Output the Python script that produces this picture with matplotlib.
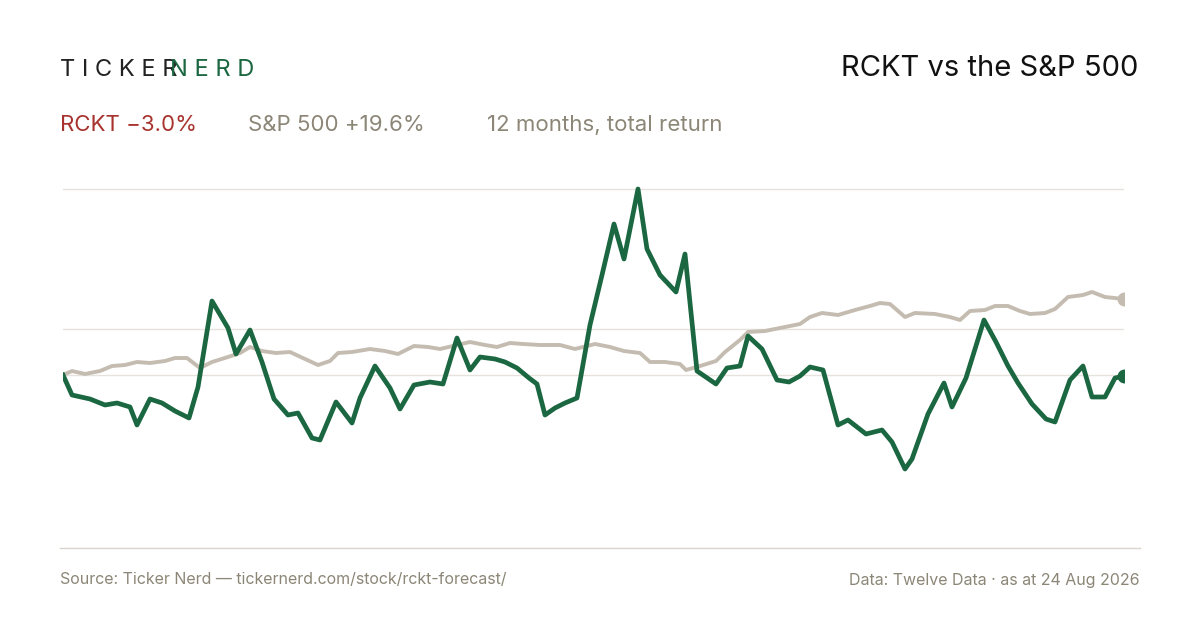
import numpy as np
import matplotlib.pyplot as plt

# values as (pixel x, pixel y); converted to days / % below
rckt_px = [63,72,90,105,117,130,137,150,162,175,189,198,212,228,236,250,262,274,288,298,312,320,336,352,360,375,390,400,414,430,443,457,470,480,495,505,517,529,537,545,555,565,577,590,602,614,624,638,647,660,676,685,697,716,727,740,748,762,777,789,800,810,823,838,848,866,882,892,905,912,928,944,952,966,984,996,1008,1018,1032,1046,1055,1070,1083,1092,1105,1115,1124]
rckt_py = [375,395,399,405,403,407,425,399,403,411,418,387,301,328,354,330,362,399,415,413,438,440,402,423,398,366,388,409,385,382,384,338,370,357,359,362,368,378,384,415,408,403,398,325,275,224,259,189,249,275,292,254,371,384,368,366,336,349,380,382,376,367,370,425,420,434,430,442,469,459,414,383,407,378,320,342,366,383,404,419,422,380,366,397,397,378,376]
spx_px = [63,72,85,100,112,125,137,150,165,175,187,200,212,228,240,250,262,276,290,305,318,330,338,352,370,385,398,414,428,440,457,470,485,497,510,523,540,560,575,595,610,624,640,650,665,680,686,700,716,725,740,748,765,780,800,810,822,838,855,870,880,890,905,915,935,950,960,970,985,995,1008,1020,1030,1045,1055,1068,1083,1092,1105,1124]
spx_py = [375,371,374,371,366,365,362,363,361,358,358,368,362,357,353,347,351,353,352,359,365,361,353,352,349,351,354,346,347,349,345,342,345,347,343,344,345,345,349,344,347,351,353,362,362,364,370,366,361,352,340,332,331,328,324,317,313,315,310,306,303,304,317,313,314,317,320,311,310,306,306,311,314,313,309,297,295,292,297,299]

def to_days(px):
    return (np.array(px) - 63) / 1061 * 365

def to_pct(py):
    return (375 - np.array(py)) / 3.9

rckt_d, rckt_v = to_days(rckt_px), to_pct(rckt_py)
spx_d, spx_v = to_days(spx_px), to_pct(spx_py)
grid_vals = to_pct([189, 329, 375])

green = '#1b6741'
red = '#a8322d'
muted = '#8c8677'
spx_col = '#c4bcb0'

plt.rcParams['font.family'] = ['Inter', 'DejaVu Sans']
fig = plt.figure(figsize=(12, 6.3), dpi=100, facecolor='white')
ax = fig.add_axes([63/1200, 100/630, 1061/1200, 360/630])
ax.set_xlim(0, 365)
ax.set_ylim(to_pct(530), to_pct(170))
for g in grid_vals:
    ax.axhline(g, color='#e6e3de', lw=1, zorder=0)
ax.plot(spx_d, spx_v, color=spx_col, lw=2.8, solid_joinstyle='round')
ax.plot(rckt_d, rckt_v, color=green, lw=3.4, solid_joinstyle='round')
ax.plot(spx_d[-1], spx_v[-1], 'o', color=spx_col, ms=9)
ax.plot(rckt_d[-1], rckt_v[-1], 'o', color=green, ms=9)
ax.axis('off')

fig.text(60/1200, 1-70/630, 'T I C K E R', color='#222222', fontsize=17, va='center')
fig.text(170/1200, 1-70/630, 'N E R D', color=green, fontsize=17, va='center')
fig.text(1138/1200, 1-68/630, 'RCKT vs the S&P 500', color='#111111', fontsize=21,
         ha='right', va='center')
fig.text(60/1200, 1-125/630, 'RCKT \u22123.0%', color=red, fontsize=16, va='center')
fig.text(248/1200, 1-125/630, 'S&P 500 +19.6%', color=muted, fontsize=16, va='center')
fig.text(487/1200, 1-125/630, '12 months, total return', color=muted, fontsize=16, va='center')
fig.add_artist(plt.Line2D([60/1200, 1140/1200], [1-548/630]*2, color='#d9d5cf', lw=1))
fig.text(60/1200, 1-580/630, 'Source: Ticker Nerd \u2014 tickernerd.com/stock/rckt-forecast/',
         color=muted, fontsize=11.5, va='center')
fig.text(1140/1200, 1-580/630, 'Data: Twelve Data \u00b7 as at 24 Aug 2026',
         color=muted, fontsize=11.5, va='center', ha='right')

fig.savefig('out.png', dpi=100, facecolor='white')
